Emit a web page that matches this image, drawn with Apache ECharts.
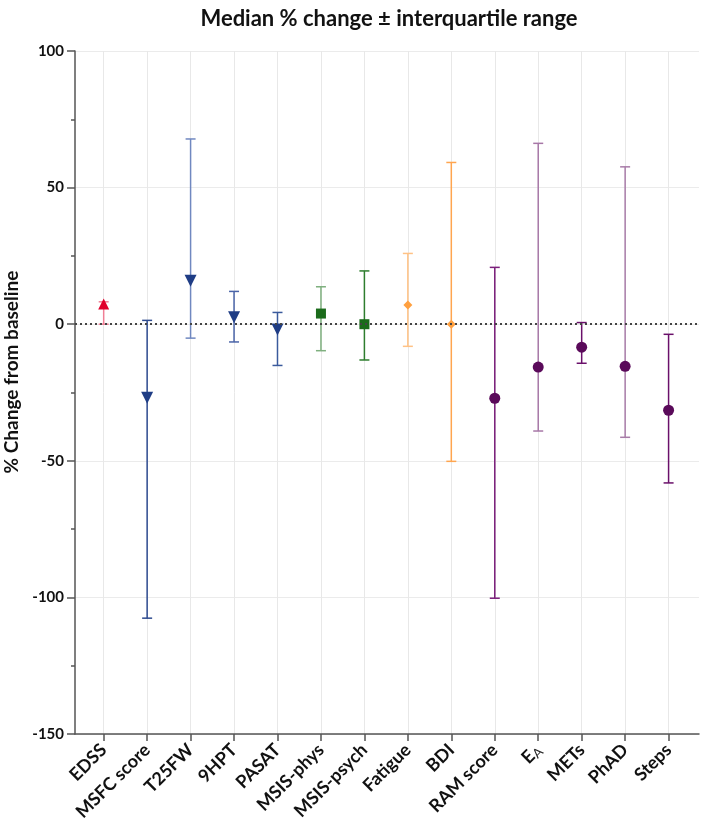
<!DOCTYPE html>
<html>
<head>
<meta charset="utf-8">
<script src="https://cdn.jsdelivr.net/npm/echarts@6/dist/echarts.min.js"></script>
<style>html,body{margin:0;padding:0;background:#fff;}#c{width:702px;height:833px;}</style>
</head>
<body>
<div id="c"></div>
<script>
var categories = ['EDSS','MSFC score','T25FW','9HPT','PASAT','MSIS-phys','MSIS-psych','Fatigue','BDI','RAM score','EA','METs','PhAD','Steps'];
var medians = [7.4,-26.9,15.9,2.5,-1.9,3.9,0,7.0,0,-27.1,-15.7,-8.4,-15.4,-31.5];
var q1 = [0,-107.6,-5.1,-6.5,-15.1,-9.7,-13.1,-8.1,-50.2,-100.3,-39.1,-14.3,-41.4,-58.1];
var q3 = [8.2,1.4,67.8,12.0,4.3,13.7,19.5,25.9,59.2,20.8,66.2,0.6,57.6,-3.7];
var yTicks = [-150,-100,-50,0,50,100];

var markerColors = ['#e0002b','#1f3d85','#1f3d85','#1f3d85','#1f3d85','#1b6b1b','#1b6b1b','#ffa040','#ffa040','#5a0a5a','#5a0a5a','#5a0a5a','#5a0a5a','#5a0a5a'];
var whiskerColors = ['#f07f95','#2d4a8f','#7088c0','#4a64a8','#3a5a9c','#7fb07f','#2e7d2e','#ffc285','#ffa54f','#7b1f7b','#a777a7','#6a106a','#a87ca8','#6a106a'];
var symbols = ['triangle','triangle','triangle','triangle','triangle','rect','rect','diamond','diamond','circle','circle','circle','circle','circle'];
var rotations = [0,180,180,180,180,0,0,0,0,0,0,0,0,0];
var sizes = [11,12,12,12,12,10,10,9,9,11,11,11,11,11];

var FONT = 'Lato, "Open Sans", sans-serif';
var chart = echarts.init(document.getElementById('c'));

var xIdx = categories.map(function(c,i){return i;});

chart.setOption({
  backgroundColor: '#fff',
  animation: false,
  title: {
    text: 'Median % change \u00b1 interquartile range',
    left: 384, top: 3, textAlign: 'center',
    textStyle: {fontFamily: FONT, fontWeight: 'bold', fontSize: 22, color: '#111'}
  },
  graphic: [{
    type: 'text', x: 12, y: 372, rotation: Math.PI / 2,
    style: {text: '% Change from baseline', fontFamily: FONT, fontWeight: 'bold', fontSize: 19, fill: '#111', align: 'center', verticalAlign: 'middle'}
  }],
  grid: {left: 75, right: 3, top: 51, bottom: 99, containLabel: false},
  xAxis: {
    type: 'value', min: -0.66, max: 13.70,
    axisLine: {show: true, onZero: false, lineStyle: {color: '#555', width: 1.5}},
    axisTick: {show: true, customValues: xIdx, length: 7, lineStyle: {color: '#555', width: 1.5}},
    axisLabel: {
      show: true, customValues: xIdx, rotate: 45, margin: 13,
      fontFamily: FONT, fontWeight: 'bold', fontSize: 18, color: '#111',
      formatter: function(v){
        var n = categories[Math.round(v)];
        if (n === 'EA') return '{b|E}{s|A}';
        return n;
      },
      rich: {
        b: {fontFamily: FONT, fontWeight: 'bold', fontSize: 18, color: '#111'},
        s: {fontFamily: FONT, fontWeight: 'normal', fontSize: 13, color: '#222', padding: [8,0,0,0]}
      }
    },
    splitLine: {show: true, lineStyle: {color: '#e8e8e8', width: 1}}
  },
  yAxis: {
    type: 'value', min: -150, max: 100, interval: 50,
    axisLine: {show: true, onZero: false, lineStyle: {color: '#555', width: 1.5}},
    axisTick: {show: true, length: 8, lineStyle: {color: '#555', width: 1.5}},
    minorTick: {show: true, splitNumber: 2, length: 4, lineStyle: {color: '#555', width: 1.5}},
    axisLabel: {fontFamily: FONT, fontWeight: 'bold', fontSize: 15, color: '#111', margin: 11},
    splitLine: {show: true, lineStyle: {color: '#ebebeb', width: 1}}
  },
  series: [
    {
      type: 'custom',
      data: categories.map(function(c,i){return [i, q1[i], q3[i]];}),
      renderItem: function(params, api){
        var x = api.value(0);
        var lo = api.coord([x, api.value(1)]);
        var hi = api.coord([x, api.value(2)]);
        var col = whiskerColors[params.dataIndex];
        var hw = 5;
        var st = {stroke: col, lineWidth: 1.5, fill: null};
        return {
          type: 'group',
          children: [
            {type: 'line', shape: {x1: lo[0], y1: lo[1], x2: hi[0], y2: hi[1]}, style: st},
            {type: 'line', shape: {x1: lo[0]-hw, y1: lo[1], x2: lo[0]+hw, y2: lo[1]}, style: st},
            {type: 'line', shape: {x1: hi[0]-hw, y1: hi[1], x2: hi[0]+hw, y2: hi[1]}, style: st}
          ]
        };
      },
      markLine: {
        silent: true, symbol: 'none', label: {show: false},
        lineStyle: {color: '#444', type: [2,3], width: 2, opacity: 1},
        data: [{yAxis: 0}]
      },
      z: 2
    },
    {
      type: 'scatter',
      data: categories.map(function(c,i){
        return {
          value: [i, medians[i]],
          symbol: symbols[i],
          symbolSize: sizes[i],
          symbolRotate: rotations[i],
          itemStyle: {color: markerColors[i], opacity: 1}
        };
      }),
      itemStyle: {opacity: 1},
      z: 3
    }
  ]
});
</script>
</body>
</html>
